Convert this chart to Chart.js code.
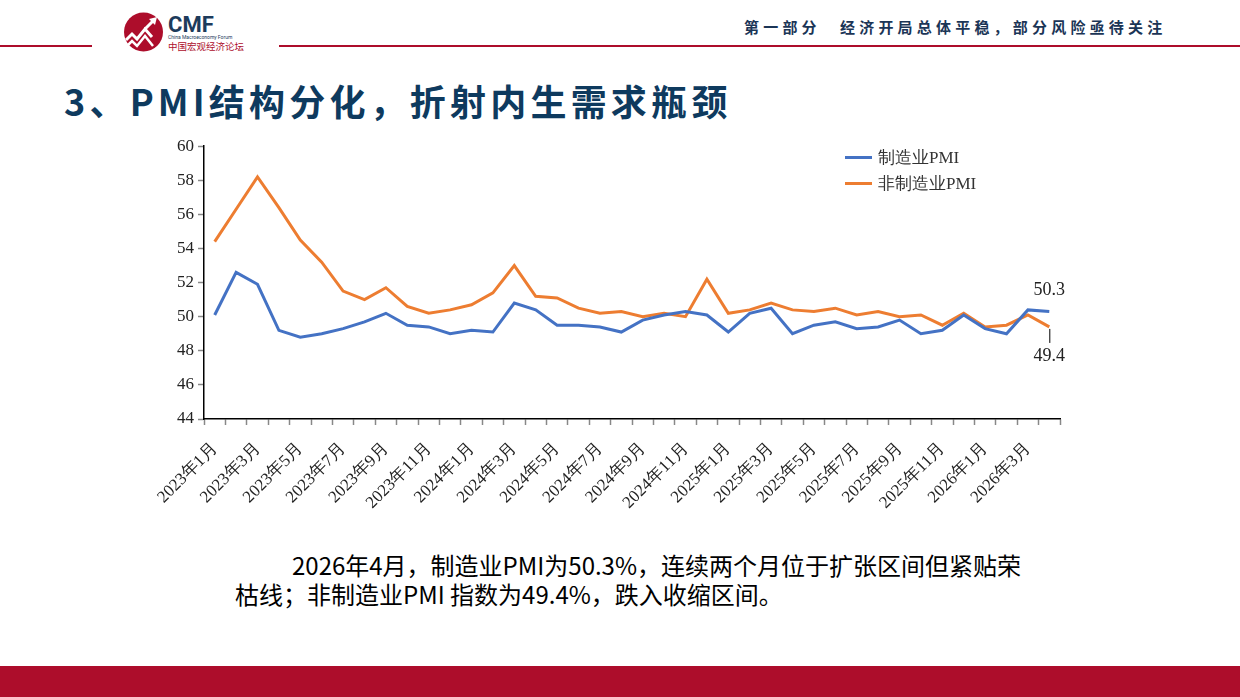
<!DOCTYPE html>
<html>
<head>
<meta charset="utf-8">
<script src="https://cdn.jsdelivr.net/npm/chart.js@4.4.1/dist/chart.umd.min.js"></script>
<style>
  body { margin: 0; background: #fff; }
  #page { position: relative; width: 1240px; height: 697px; overflow: hidden; background: #fff;
          font-family: "Noto Sans CJK SC", "Noto Sans", sans-serif; }
  .rule { position: absolute; top: 45px; height: 2px; background: #ad0d2b; }
  #header { position: absolute; left: 744px; top: 16px; font-size: 15px; font-weight: bold;
            color: #1b3556; letter-spacing: 4.2px; white-space: pre; }
  #title { position: absolute; left: 64px; top: 74px; font-size: 36px; font-weight: bold;
           color: #0e3a5e; letter-spacing: 4.2px; white-space: nowrap; }
  #chartBox { position: absolute; left: 140px; top: 132px; width: 940px; height: 398px; }
  #legend { position: absolute; left: 845px; top: 144px; font-family: "Liberation Serif", serif;
            font-size: 17px; color: #333; }
  #legend div { height: 26px; display: flex; align-items: center; }
  #legend span.swatch { display: inline-block; width: 27px; height: 3px; margin-right: 6px; }
  #note { position: absolute; left: 235px; top: 550px; width: 800px; font-size: 24px; line-height: 29px;
          color: #000; text-indent: 57px; }
  #footer { position: absolute; left: 0; top: 666px; width: 1240px; height: 31px; background: #ad0d2b; }
</style>
</head>
<body>
<div id="page">
  <div class="rule" style="left:0;width:92px"></div>
  <div class="rule" style="left:279px;width:961px"></div>
  <svg style="position:absolute;left:120px;top:10px" width="135" height="46" viewBox="0 0 135 46">
    <circle cx="23.5" cy="22" r="19.5" fill="#ad0d2b"/>
    <polyline points="6,30 12,24 17,29 25,19 32,27" fill="none" stroke="#fff" stroke-width="3"/>
    <polyline points="6,37 12,31 17,36 25,26 33,36" fill="none" stroke="#fff" stroke-width="2.5"/>
    <polyline points="25,19 34,10" fill="none" stroke="#fff" stroke-width="3"/>
    <polygon points="37,7 29,9 35,15" fill="#fff"/>
    <text x="48" y="22" font-family="Roboto, sans-serif" font-weight="bold" font-size="22" fill="#1d3b5c">CMF</text>
    <text x="48" y="29" font-family="Roboto, sans-serif" font-size="5" fill="#1d3b5c">China Macroeconomy Forum</text>
    <text x="48" y="40" font-family="Noto Sans CJK SC, sans-serif" font-size="9.5" fill="#ad0d2b">中国宏观经济论坛</text>
  </svg>
  <div id="header">第一部分　经济开局总体平稳，部分风险亟待关注</div>
  <div id="title">3、PMI结构分化，折射内生需求瓶颈</div>
  <div id="chartBox"><canvas id="chart"></canvas></div>
  <div id="legend"></div>
  <div id="note">2026年4月，制造业PMI为50.3%，连续两个月位于扩张区间但紧贴荣<br>枯线；非制造业PMI 指数为49.4%，跌入收缩区间。</div>
  <div id="footer"></div>
</div>
<script>
"use strict";

// months on the x axis
const months = [
    "2023年1月", "2023年2月", "2023年3月", "2023年4月", "2023年5月", "2023年6月",
    "2023年7月", "2023年8月", "2023年9月", "2023年10月", "2023年11月", "2023年12月",
    "2024年1月", "2024年2月", "2024年3月", "2024年4月", "2024年5月", "2024年6月",
    "2024年7月", "2024年8月", "2024年9月", "2024年10月", "2024年11月", "2024年12月",
    "2025年1月", "2025年2月", "2025年3月", "2025年4月", "2025年5月", "2025年6月",
    "2025年7月", "2025年8月", "2025年9月", "2025年10月", "2025年11月", "2025年12月",
    "2026年1月", "2026年2月", "2026年3月", "2026年4月",
];

// 制造业PMI
const manufacturing = [
    50.1, 52.6, 51.9, 49.2, 48.8, 49.0, 49.3, 49.7, 50.2, 49.5, 49.4, 49.0,
    49.2, 49.1, 50.8, 50.4, 49.5, 49.5, 49.4, 49.1, 49.8, 50.1, 50.3, 50.1,
    49.1, 50.2, 50.5, 49.0, 49.5, 49.7, 49.3, 49.4, 49.8, 49.0, 49.2, 50.1,
    49.3, 49.0, 50.4, 50.3,
];

// 非制造业PMI
const nonManufacturing = [
    54.4, 56.3, 58.2, 56.4, 54.5, 53.2, 51.5, 51.0, 51.7, 50.6, 50.2, 50.4,
    50.7, 51.4, 53.0, 51.2, 51.1, 50.5, 50.2, 50.3, 50.0, 50.2, 50.0, 52.2,
    50.2, 50.4, 50.8, 50.4, 50.3, 50.5, 50.1, 50.3, 50.0, 50.1, 49.5, 50.2,
    49.4, 49.5, 50.1, 49.4,
];

const seriesNames = ["制造业PMI", "非制造业PMI"];
const seriesColors = ["#4472c4", "#ed7d31"];
const yMin = 44;
const yMax = 60;
const yStep = 2;

const serif = '"Liberation Serif", "Times New Roman", serif';

// value labels for the last month, with a short leader line under the lower one
const endLabels = {
    id: "endLabels",
    afterDatasetsDraw(chart) {
        const { ctx, scales } = chart;
        const i = months.length - 1;
        const px = scales.x.getPixelForValue(i);
        const yTop = scales.y.getPixelForValue(manufacturing[i]);
        const yLow = scales.y.getPixelForValue(nonManufacturing[i]);
        ctx.save();
        ctx.font = "18px " + serif;
        ctx.fillStyle = "#222";
        ctx.textAlign = "center";
        ctx.textBaseline = "middle";
        ctx.fillText(manufacturing[i].toFixed(1), px, yTop - 21);
        ctx.strokeStyle = "#000";
        ctx.lineWidth = 1;
        ctx.beginPath();
        ctx.moveTo(px + 0.5, yLow + 2);
        ctx.lineTo(px + 0.5, yLow + 16);
        ctx.stroke();
        ctx.fillText(nonManufacturing[i].toFixed(1), px, yLow + 29);
        ctx.restore();
    },
};

const chart = new Chart(document.getElementById("chart"), {
    type: "line",
    data: {
        labels: months,
        datasets: [
            {
                label: seriesNames[0],
                data: manufacturing,
                borderColor: seriesColors[0],
                backgroundColor: seriesColors[0],
                borderWidth: 3,
                pointRadius: 0,
                tension: 0,
            },
            {
                label: seriesNames[1],
                data: nonManufacturing,
                borderColor: seriesColors[1],
                backgroundColor: seriesColors[1],
                borderWidth: 3,
                pointRadius: 0,
                tension: 0,
            },
        ],
    },
    options: {
        responsive: true,
        maintainAspectRatio: false,
        animation: false,
        layout: { padding: { top: 7, right: 20, bottom: 0, left: 0 } },
        plugins: {
            legend: { display: false },
            tooltip: { enabled: false },
        },
        scales: {
            x: {
                offset: true,
                border: { color: "#000", width: 1.5 },
                grid: {
                    offset: true,
                    drawOnChartArea: false,
                    tickLength: 6,
                    tickColor: "#888",
                    tickWidth: 1.5,
                },
                ticks: {
                    autoSkip: false,
                    minRotation: 45,
                    maxRotation: 45,
                    padding: 14,
                    color: "#222",
                    font: { family: serif, size: 17 },
                    // only odd months carry a label
                    callback: (value, index) => (index % 2 === 0 ? months[index] : ""),
                },
                afterFit: (scale) => {
                    scale.height = 111;
                },
            },
            y: {
                min: yMin,
                max: yMax,
                border: { color: "#000", width: 1.5 },
                grid: {
                    drawOnChartArea: false,
                    tickLength: 6,
                    tickColor: "#888",
                    tickWidth: 1.5,
                },
                ticks: {
                    stepSize: yStep,
                    padding: 4,
                    color: "#222",
                    font: { family: serif, size: 17 },
                },
                afterFit: (scale) => {
                    scale.width = 64;
                },
            },
        },
    },
    plugins: [endLabels],
});

// legend as html, built from the datasets
const legend = document.getElementById("legend");
chart.data.datasets.forEach((ds) => {
    const row = document.createElement("div");
    row.innerHTML = `<span class="swatch" style="background:${ds.borderColor}"></span>${ds.label}`;
    legend.appendChild(row);
});
</script>
</body>
</html>
